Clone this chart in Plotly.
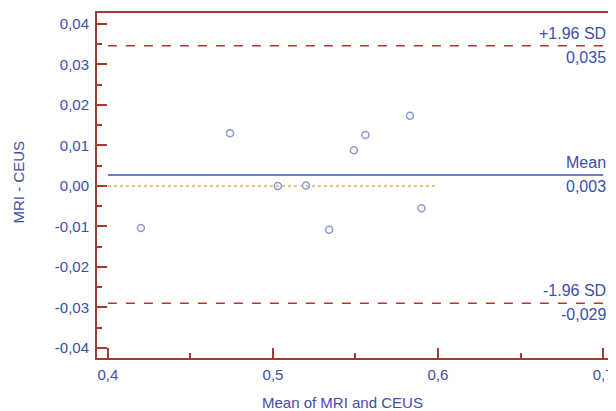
import plotly.graph_objects as go

# Data
mean_x = [0.420, 0.474, 0.503, 0.520, 0.534, 0.549, 0.556, 0.583, 0.590]
diff_y = [-0.0104, 0.0130, 0.0000, 0.0001, -0.0108, 0.0088, 0.0126, 0.0173, -0.0055]
mean_diff = 0.0027
upper_loa = 0.0346
lower_loa = -0.0290
line_x = [0.4, 0.7]
zero_x = [0.4, 0.6]

y_tickvals = [-0.04, -0.03, -0.02, -0.01, 0.0, 0.01, 0.02, 0.03, 0.04]
y_ticktext = ["-0,04", "-0,03", "-0,02", "-0,01", "0,00", "0,01", "0,02", "0,03", "0,04"]
x_tickvals = [0.4, 0.5, 0.6, 0.7]
x_ticktext = ["0,4", "0,5", "0,6", "0,7"]

AX = "#A23A2F"
BLUE = "#3E4DAA"
FONT = "Liberation Sans, Arial, sans-serif"

fig = go.Figure()
fig.add_trace(go.Scatter(x=zero_x, y=[0, 0], mode="lines",
                         line=dict(color="#F6A25E", width=1.5, dash="dot"), hoverinfo="skip"))
fig.add_trace(go.Scatter(x=line_x, y=[upper_loa] * 2, mode="lines",
                         line=dict(color="#B3362B", width=1.5, dash="dash")))
fig.add_trace(go.Scatter(x=line_x, y=[lower_loa] * 2, mode="lines",
                         line=dict(color="#B3362B", width=1.5, dash="dash")))
fig.add_trace(go.Scatter(x=line_x, y=[mean_diff] * 2, mode="lines",
                         line=dict(color="#3A4DC0", width=1.6)))
fig.add_trace(go.Scatter(x=mean_x, y=diff_y, mode="markers",
                         marker=dict(symbol="circle-open", size=7, color="#8C9AD6",
                                     line=dict(width=1.5, color="#8C9AD6"))))

def lab(text, y, anchor):
    fig.add_annotation(x=0.7, y=y, xref="x", yref="y", text=text, showarrow=False,
                       xanchor="right", yanchor=anchor, font=dict(size=16, color=BLUE, family=FONT),
                       xshift=5, yshift=2 if anchor == "bottom" else -1)

lab("+1.96 SD", upper_loa, "bottom")
lab("0,035", upper_loa, "top")
lab("Mean", mean_diff, "bottom")
lab("0,003", mean_diff, "top")
lab("-1.96 SD", lower_loa, "bottom")
lab("-0,029", lower_loa, "top")

# axis titles
fig.add_annotation(xref="paper", yref="paper", x=0.5, y=0, xanchor="center", yanchor="middle",
                   xshift=-12, yshift=-44, showarrow=False, text="Mean of MRI and CEUS",
                   font=dict(size=15, color=BLUE, family=FONT))
fig.add_annotation(xref="paper", yref="paper", x=0, y=0.5, xanchor="center", yanchor="middle",
                   xshift=-79, yshift=3, showarrow=False, text="MRI - CEUS", textangle=-90,
                   font=dict(size=15, color=BLUE, family=FONT))

# the page body has an 8px margin, so the figure is offset by 8px
fig.update_layout(
    width=608, height=403,
    margin=dict(l=89, r=3, t=5, b=53),
    plot_bgcolor="white", paper_bgcolor="white",
    showlegend=False,
    font=dict(family=FONT, size=14, color=BLUE),
)
fig.update_xaxes(range=[0.3934, 0.7048], tickvals=x_tickvals, ticktext=x_ticktext,
                 ticks="inside", ticklen=10, tickwidth=2, tickcolor=AX,
                 minor=dict(ticks="inside", ticklen=5, tickwidth=1.5, tickcolor=AX, dtick=0.05, tick0=0.4),
                 showline=True, linecolor=AX, linewidth=2, mirror=True,
                 showgrid=False, zeroline=False, ticklabelstandoff=2,
                 tickfont=dict(size=15, color=BLUE))
fig.update_yaxes(range=[-0.0425, 0.0427], tickvals=y_tickvals, ticktext=y_ticktext,
                 ticks="inside", ticklen=10, tickwidth=2, tickcolor=AX,
                 minor=dict(ticks="inside", ticklen=5, tickwidth=1.5, tickcolor=AX, dtick=0.005, tick0=0),
                 showline=True, linecolor=AX, linewidth=2, mirror=True,
                 showgrid=False, zeroline=False, ticklabelstandoff=3,
                 tickfont=dict(size=15, color=BLUE))

fig.write_html("out.html")
